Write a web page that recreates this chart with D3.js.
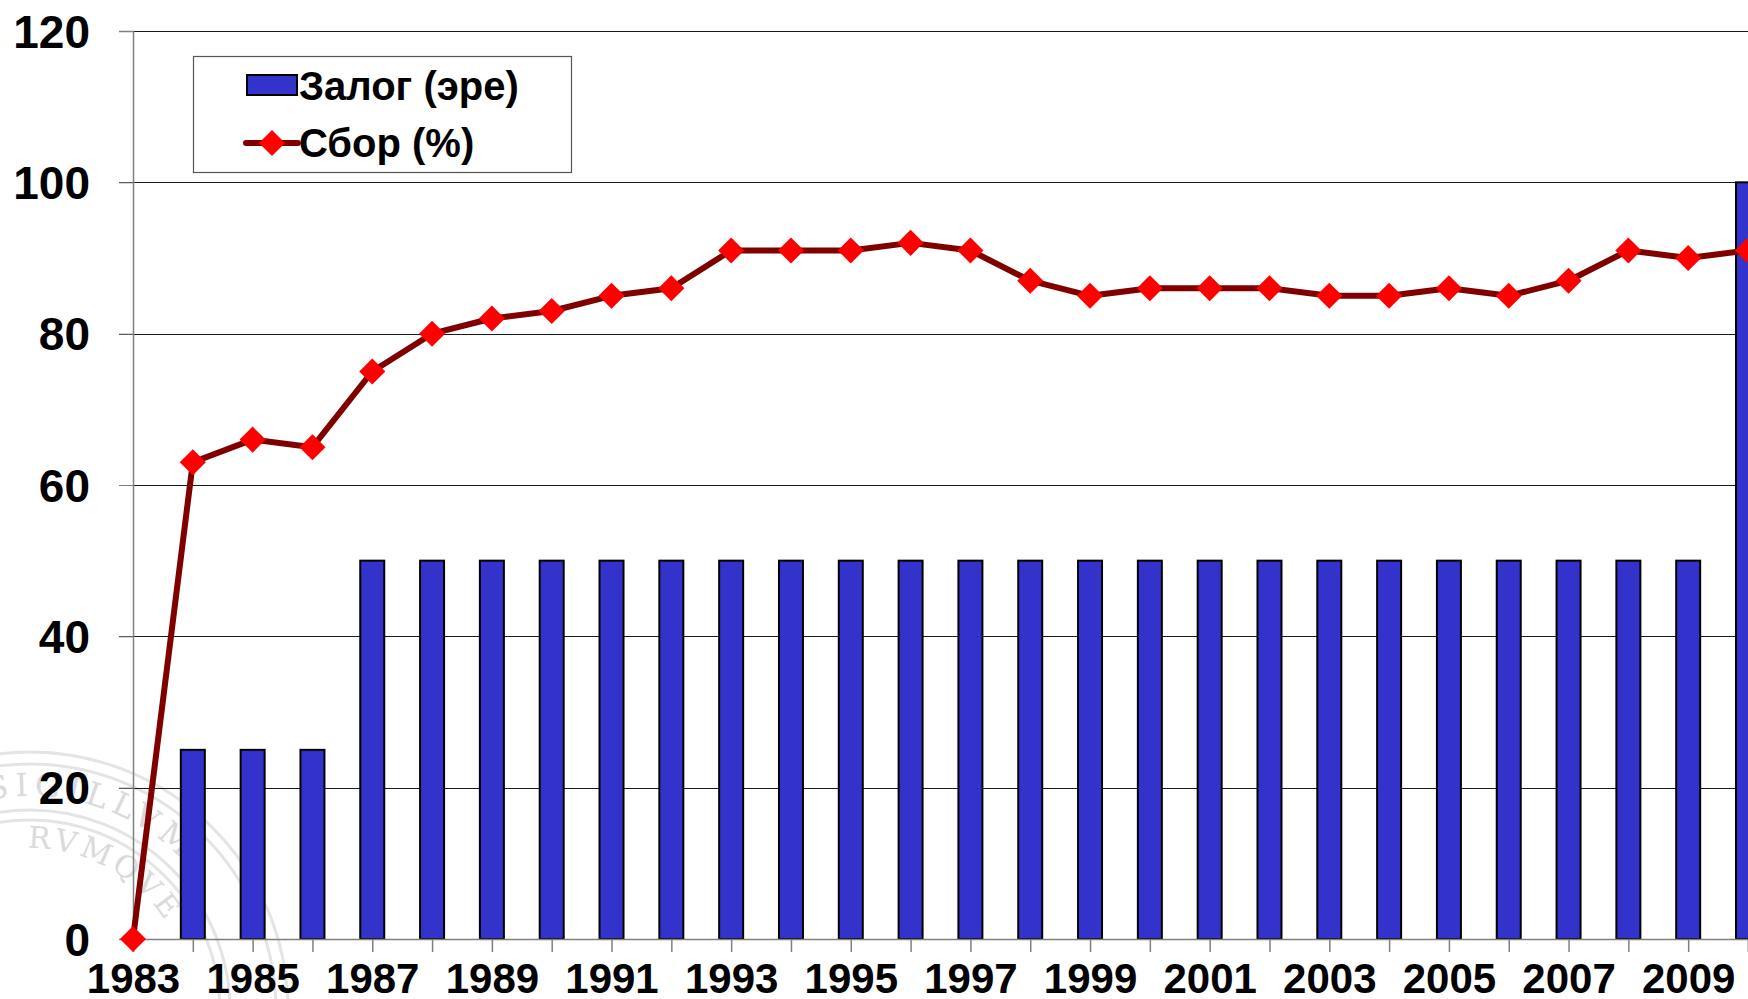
<!DOCTYPE html>
<html>
<head>
<meta charset="utf-8">
<script src="https://cdn.jsdelivr.net/npm/d3@7"></script>
<style>
  body { margin: 0; background: #fff; }
  svg { display: block; font-family: "Liberation Sans", Arial, sans-serif; font-weight: bold; }
</style>
</head>
<body>
<div id="chart"></div>
<script>
const years = d3.range(1983, 2011)
const zalog = [0, 25, 25, 25, 50, 50, 50, 50, 50, 50, 50, 50, 50, 50, 50, 50, 50, 50, 50, 50, 50, 50, 50, 50, 50, 50, 50, 100]
const sbor = [0, 63, 66, 65, 75, 80, 82, 83, 85, 86, 91, 91, 91, 92, 91, 87, 85, 86, 86, 86, 85, 85, 86, 85, 87, 91, 90, 91]
const yTicks = [0, 20, 40, 60, 80, 100, 120]
const legendLabels = ['Залог (эре)', 'Сбор (%)']

const width = 1748, height = 999
const plotLeft = 133, plotRight = 1748, plotTop = 31, plotBottom = 939

const svg = d3.select('#chart')
  .append('svg')
  .attr('width', width)
  .attr('height', height)

// faint seal in the background (bottom-left watermark)
const seal = svg.append('g').attr('transform', 'translate(30,1010)')
seal.selectAll('circle')
  .data([258, 246, 200, 190])
  .enter()
  .append('circle')
  .attr('r', d => d)
  .attr('fill', 'none')
  .attr('stroke', '#e4e4e4')
  .attr('stroke-width', 3)
const ringPath = (id, r, a0, a1) => {
  const p = d3.path()
  p.arc(0, 0, r, a0 - Math.PI / 2, a1 - Math.PI / 2)
  seal.append('path').attr('id', id).attr('d', p.toString()).attr('fill', 'none')
}
ringPath('sealOuter', 214, -0.9, 1.4)
ringPath('sealInner', 162, -0.25, 1.3)
seal.append('text')
  .attr('fill', '#dadada').style('font-family', '"DejaVu Serif", serif').style('font-weight', 'normal')
  .attr('font-size', 32).attr('letter-spacing', 6)
  .append('textPath').attr('href', '#sealOuter').attr('startOffset', 150)
  .text('SIGILLVM')
seal.append('text')
  .attr('fill', '#dadada').style('font-family', '"DejaVu Serif", serif').style('font-weight', 'normal')
  .attr('font-size', 30).attr('letter-spacing', 4)
  .append('textPath').attr('href', '#sealInner').attr('startOffset', 38)
  .text('RVMQVE')

const x = d3.scalePoint()
  .domain(years)
  .range([plotLeft, plotRight])
  .padding(0)

const y = d3.scaleLinear()
  .domain([0, 120])
  .range([plotBottom, plotTop])

// gridlines
svg.append('g')
  .selectAll('line')
  .data(yTicks.filter(d => d > 0))
  .enter()
  .append('line')
  .attr('x1', plotLeft - 14)
  .attr('x2', plotRight)
  .attr('y1', d => Math.round(y(d)) + 0.5)
  .attr('y2', d => Math.round(y(d)) + 0.5)
  .attr('stroke', '#1a1a1a')
  .attr('stroke-width', 1.2)

// bars
const data = years.map((yr, i) => ({year: yr, zalog: zalog[i], sbor: sbor[i]}))
const barW = 24
svg.append('g')
  .selectAll('rect')
  .data(data.filter(d => d.zalog > 0))
  .enter()
  .append('rect')
  .attr('x', d => x(d.year) - barW / 2)
  .attr('y', d => y(d.zalog))
  .attr('width', barW)
  .attr('height', d => y(0) - y(d.zalog))
  .attr('fill', '#3333CC')
  .attr('stroke', '#000')
  .attr('stroke-width', 2)

// x axis
const xAxis = d3.axisBottom(x)
  .tickSize(13)
  .tickFormat((d, i) => i % 2 === 0 && d < 2010 ? d : '')
const gx = svg.append('g')
  .attr('transform', `translate(0,${plotBottom})`)
  .call(xAxis)
gx.select('.domain').attr('stroke', '#808080').attr('stroke-width', 1.5)
gx.selectAll('.tick line').attr('stroke', '#808080').attr('stroke-width', 1.5)
gx.selectAll('text')
  .attr('y', 54)
  .attr('dy', null)
  .attr('fill', '#000')
  .attr('font-size', 42)
  .style('font-family', '"Liberation Sans", Arial, sans-serif')
  .style('font-weight', 'bold')

// y axis
const yAxis = d3.axisLeft(y)
  .tickValues(yTicks)
  .tickSize(14)
  .tickPadding(29)
const gy = svg.append('g')
  .attr('transform', `translate(${plotLeft},0)`)
  .call(yAxis)
gy.select('.domain').attr('stroke', '#808080').attr('stroke-width', 1.5)
gy.selectAll('.tick line').attr('stroke', '#808080')
gy.selectAll('text')
  .attr('dy', '0.35em')
  .attr('fill', '#000')
  .attr('font-size', 46)
  .style('font-family', '"Liberation Sans", Arial, sans-serif')
  .style('font-weight', 'bold')

// line
const line = d3.line()
  .x(d => x(d.year))
  .y(d => y(d.sbor))
svg.append('path')
  .datum(data)
  .attr('d', line)
  .attr('fill', 'none')
  .attr('stroke', '#800000')
  .attr('stroke-width', 6)
  .attr('stroke-linejoin', 'round')

const diamond = d3.symbol().type(d3.symbolSquare).size(340)
svg.append('g')
  .selectAll('path')
  .data(data)
  .enter()
  .append('path')
  .attr('d', diamond)
  .attr('transform', d => `translate(${x(d.year)},${y(d.sbor)}) rotate(45)`)
  .attr('fill', '#FF0000')

// legend
const legend = svg.append('g')
legend.append('rect')
  .attr('x', 193.5).attr('y', 56.5)
  .attr('width', 378).attr('height', 116)
  .attr('fill', '#fff')
  .attr('stroke', '#555')
  .attr('stroke-width', 1.2)
legend.append('rect')
  .attr('x', 247).attr('y', 75)
  .attr('width', 50).attr('height', 20)
  .attr('fill', '#3333CC')
  .attr('stroke', '#000')
  .attr('stroke-width', 2)
legend.append('line')
  .attr('x1', 246).attr('x2', 298)
  .attr('y1', 143).attr('y2', 143)
  .attr('stroke', '#800000')
  .attr('stroke-width', 6)
  .attr('stroke-linecap', 'round')
legend.append('path')
  .attr('d', diamond)
  .attr('transform', 'translate(272,143) rotate(45)')
  .attr('fill', '#FF0000')
legend.selectAll('text')
  .data(legendLabels)
  .enter()
  .append('text')
  .attr('x', 299)
  .attr('y', (d, i) => 100 + i * 57)
  .attr('font-size', 40)
  .text(d => d)
</script>
</body>
</html>
